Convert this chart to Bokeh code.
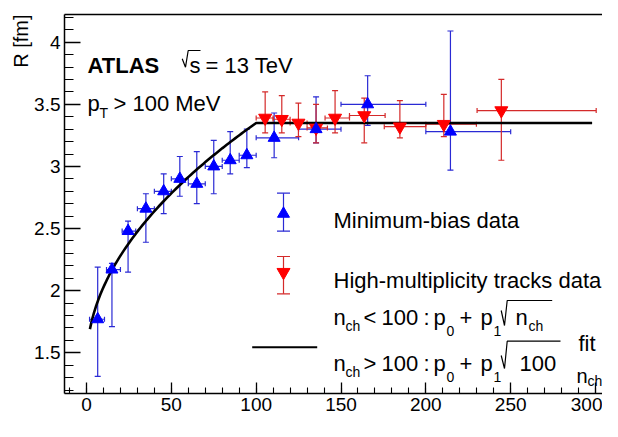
import numpy as np
from bokeh.plotting import figure
from bokeh.models import (Label, LinearAxis, Whisker, ColumnDataSource, FixedTicker,
                          Range1d, TeeHead, Title)
from bokeh.embed import file_html
from bokeh.resources import INLINE

# ---------------- data ----------------
mb_x = [6.6, 15.0, 24.5, 35.0, 45.5, 55.0, 65.0, 75.0, 84.7, 94.5, 110.6, 135.3, 165.7, 214.5]
mb_y = [1.77, 2.17, 2.48, 2.66, 2.80, 2.90, 2.86, 3.00, 3.05, 3.09, 3.23, 3.30, 3.50, 3.28]
mb_ylo = [1.31, 1.71, 2.15, 2.39, 2.62, 2.76, 2.70, 2.78, 2.94, 2.99, 3.07, 3.19, 3.33, 2.97]
mb_yhi = [2.19, 2.22, 2.56, 2.78, 2.94, 3.08, 3.12, 3.21, 3.28, 3.30, 3.43, 3.56, 3.73, 4.09]
mb_xlo = [1.8, 11.8, 21.0, 30.0, 40.0, 50.0, 60.0, 70.0, 80.0, 90.0, 100.0, 125.0, 150.0, 200.0]
mb_xhi = [10.6, 20.0, 29.0, 40.0, 50.0, 60.0, 70.0, 80.0, 90.0, 100.0, 125.0, 150.0, 200.0, 250.0]

hm_x = [105.3, 115.1, 124.9, 135.3, 146.5, 163.7, 184.7, 210.6, 244.5]
hm_y = [3.39, 3.38, 3.35, 3.31, 3.39, 3.41, 3.32, 3.34, 3.45]
hm_ylo = [3.27, 3.27, 3.24, 3.19, 3.27, 3.19, 3.23, 3.24, 3.05]
hm_yhi = [3.60, 3.57, 3.51, 3.50, 3.61, 3.55, 3.53, 3.58, 3.70]
hm_xlo = [100.0, 110.0, 120.0, 130.0, 140.6, 155.0, 175.5, 200.0, 230.2]
hm_xhi = [110.0, 120.0, 130.0, 142.0, 155.0, 176.0, 200.0, 229.8, 300.4]

# fit: n_ch < 100 : p0 + p1*sqrt(n_ch) ; n_ch > 100 : p0 + p1*sqrt(100)
fit_p0 = 1.417
fit_p1 = 0.1933
fit_xmin = 2.0
fit_break = 100.0
fit_xmax = 298.0

x_ticks = [0, 50, 100, 150, 200, 250, 300]
y_ticks = [1.5, 2.0, 2.5, 3.0, 3.5, 4.0]
y_tick_labels = {1.5: "1.5", 2.0: "2", 2.5: "2.5", 3.0: "3", 3.5: "3.5", 4.0: "4"}

# ---------------- layout helpers (picture pixels) ----------------
W, H = 602, 421
FL, FR, FT, FB = 64, 602, 14, 393  # frame edges in picture pixels
PX0, PXS = 86.0, 1.6967            # pixel of x=0, pixels per x unit
PY4, PYS = 41.7, 124.24            # pixel of y=4, pixels per y unit
X0, X1 = (FL - PX0) / PXS, (FR - PX0) / PXS
Y1, Y0 = 4 + (PY4 - FT) / PYS, 4 - (FB - PY4) / PYS


def X(px):
    return (px - PX0) / PXS


def Y(py):
    return 4 - (py - PY4) / PYS


FONT = "Liberation Sans"

p = figure(width=W, height=H, x_range=Range1d(X0, X1), y_range=Range1d(Y0, Y1),
           output_backend="svg", toolbar_location=None,
           min_border_left=FL, min_border_right=W - FR, min_border_top=FT,
           min_border_bottom=H - FB)
p.outline_line_color = None
p.xgrid.visible = False
p.ygrid.visible = False
p.background_fill_color = "white"
p.border_fill_color = "white"

# axes
xa = p.xaxis[0]
xa.ticker = FixedTicker(ticks=x_ticks, minor_ticks=[v for v in range(-10, 311, 10)])
xa.major_tick_in = 11
xa.major_tick_out = 0
xa.minor_tick_in = 6
xa.minor_tick_out = 0
xa.major_label_standoff = 4
ya = p.yaxis[0]
ya.ticker = FixedTicker(ticks=y_ticks, minor_ticks=[round(1.2 + 0.1 * i, 2) for i in range(31)])
ya.major_label_overrides = y_tick_labels
ya.major_tick_in = 16
ya.major_tick_out = 0
ya.minor_tick_in = 9
ya.minor_tick_out = 0
ya.major_label_standoff = 4
for ax in (xa, ya):
    ax.axis_line_width = 1.5
    ax.axis_line_color = "black"
    ax.major_tick_line_width = 1.3
    ax.minor_tick_line_width = 1.1
    ax.major_tick_line_color = "black"
    ax.minor_tick_line_color = "black"
    ax.major_label_text_font = FONT
    ax.major_label_text_font_size = "19px"
    ax.major_label_text_color = "black"

top = LinearAxis(ticker=FixedTicker(ticks=[]), major_label_text_font_size="0px",
                 major_tick_out=0, minor_tick_out=0, major_label_standoff=0,
                 axis_line_width=1.5, axis_line_color="black")
p.add_layout(top, "above")

p.add_layout(Title(text="R [fm]", align="right", text_font=FONT, text_font_size="20px",
                   text_font_style="normal", text_color="black", standoff=0), "left")

BLUE_BAR = "#2a2ad4"
RED_BAR = "#d42a2a"

mb = ColumnDataSource(dict(x=mb_x, y=mb_y, ylo=mb_ylo, yhi=mb_yhi, xlo=mb_xlo, xhi=mb_xhi))
hm = ColumnDataSource(dict(x=hm_x, y=hm_y, ylo=hm_ylo, yhi=hm_yhi, xlo=hm_xlo, xhi=hm_xhi))

for src, col in ((mb, BLUE_BAR), (hm, RED_BAR)):
    p.add_layout(Whisker(source=src, base="x", lower="ylo", upper="yhi", dimension="height",
                         line_color=col, line_width=1.2,
                         lower_head=TeeHead(size=6, line_color=col, line_width=1.2),
                         upper_head=TeeHead(size=6, line_color=col, line_width=1.2)))
    p.add_layout(Whisker(source=src, base="y", lower="xlo", upper="xhi", dimension="width",
                         line_color=col, line_width=1.2,
                         lower_head=TeeHead(size=5, line_color=col, line_width=1.2),
                         upper_head=TeeHead(size=5, line_color=col, line_width=1.2)))

# fit curve
fx = list(np.linspace(fit_xmin, fit_break, 80)) + [fit_xmax]
fy = [fit_p0 + fit_p1 * np.sqrt(min(v, fit_break)) for v in fx]
p.line(fx, fy, line_color="black", line_width=2.6)

p.scatter("x", "y", source=hm, marker="inverted_triangle", size=13,
          fill_color="#ff0000", line_color="#ff0000")
p.scatter("x", "y", source=mb, marker="triangle", size=12,
          fill_color="#0000ff", line_color="#0000ff")


# ---------------- texts ----------------
def txt(s, px, py, size, bold=False, align="left", baseline="alphabetic"):
    p.add_layout(Label(x=X(px), y=Y(py), text=s, text_font=FONT,
                       text_font_size=f"{size}px",
                       text_font_style="bold" if bold else "normal",
                       text_align=align, text_baseline=baseline, text_color="black"))


def stroke(pts, width=1.2):
    p.line([X(a) for a, b in pts], [Y(b) for a, b in pts], line_color="black",
           line_width=width)


BIG, SUB = 22, 14

txt("ATLAS", 87, 65, BIG, bold=True)
stroke([(181.7, 58.3), (185.0, 66.7), (187.7, 50.0), (200.0, 50.0)])
txt("s", 189, 65, BIG)
txt("= 13 TeV", 205, 65, BIG)
txt("p", 87, 103, BIG)
txt("T", 99, 112, SUB)
txt("> 100 MeV", 113, 103, BIG)

# x-axis title (kept inside the drawing area, at its lower right end)
txt("n", 576, 375, 20)
txt("ch", 587, 380, 14)

# legend
lx = 283
p.segment([X(lx)], [Y(192.7)], [X(lx)], [Y(230.7)], line_color=BLUE_BAR, line_width=1.2)
p.segment([X(lx - 6.5), X(lx - 6.5)], [Y(192.7), Y(230.7)], [X(lx + 6.5), X(lx + 6.5)],
          [Y(192.7), Y(230.7)], line_color=BLUE_BAR, line_width=1.2)
p.scatter([X(lx)], [Y(213.3)], marker="triangle", size=12, fill_color="#0000ff",
          line_color="#0000ff")
p.segment([X(lx)], [Y(256)], [X(lx)], [Y(293.3)], line_color=RED_BAR, line_width=1.2)
p.segment([X(lx - 6.5), X(lx - 6.5)], [Y(256), Y(293.3)], [X(lx + 6.5), X(lx + 6.5)],
          [Y(256), Y(293.3)], line_color=RED_BAR, line_width=1.2)
p.scatter([X(lx)], [Y(271.7)], marker="inverted_triangle", size=13, fill_color="#ff0000",
          line_color="#ff0000")
p.segment([X(251.7)], [Y(346.7)], [X(316.7)], [Y(346.7)], line_color="black", line_width=2)

txt("Minimum-bias data", 333, 220, BIG)
txt("High-multiplicity tracks data", 333, 280, BIG)


def formula(b, sign, rad_pts, inner):
    txt("n", 333, b, BIG)
    txt("ch", 345, b + 8, SUB)
    txt(sign, 363, b, BIG)
    txt("100", 381, b, BIG)
    txt(":", 423, b, BIG)
    txt("p", 433, b, BIG)
    txt("0", 446, b + 13, SUB)
    txt("+", 459, b, BIG)
    txt("p", 480, b, BIG)
    txt("1", 493, b + 13, SUB)
    stroke(rad_pts)
    inner(b)


def inner1(b):
    txt("n", 515, b, BIG)
    txt("ch", 528, b + 8, SUB)


def inner2(b):
    txt("100", 519, b, BIG)


formula(317, "<", [(500.7, 310.0), (504.0, 325.0), (506.7, 300.0), (551.7, 300.0)], inner1)
formula(363, ">", [(500.7, 355.0), (504.0, 368.0), (506.7, 340.7), (560.0, 340.7)], inner2)

txt("fit", 578, 343, BIG)

open("out.html", "w").write(file_html(p, INLINE))
